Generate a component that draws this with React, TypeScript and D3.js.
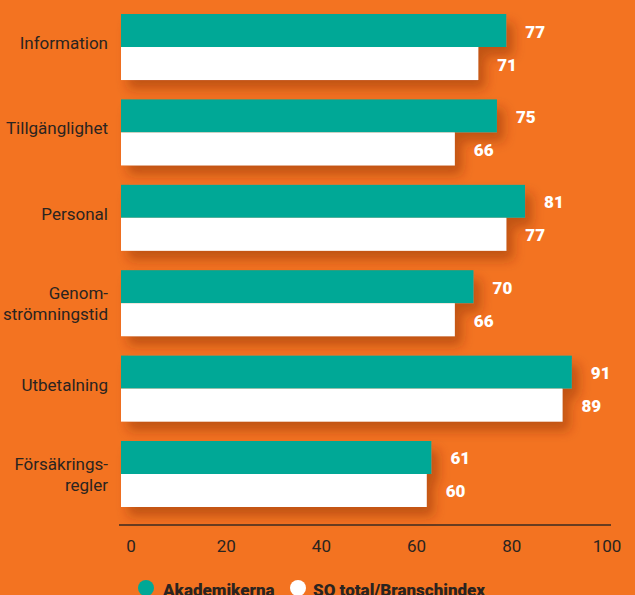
import React from "react";
import * as d3 from "d3";

const categories: string[][] = [
  ["Information"],
  ["Tillgänglighet"],
  ["Personal"],
  ["Genom-", "strömningstid"],
  ["Utbetalning"],
  ["Försäkrings-", "regler"],
];
const akademikerna = [77, 75, 81, 70, 91, 61];
const soTotal = [71, 66, 77, 66, 89, 60];
const seriesNames = ["Akademikerna", "SO total/Branschindex"];
const tickValues = [0, 20, 40, 60, 80, 100];

const W = 635;
const H = 595;
const BG = "#F37321";
const TEAL = "#00A896";
const TEXT = "#2a2420";

export default function App() {
  const keys = categories.map((c) => c.join(""));
  const y = d3.scaleBand<string>().domain(keys).range([14, 507]).paddingInner(0.227).paddingOuter(0);
  const ySub = d3.scaleBand<number>().domain([0, 1]).range([0, y.bandwidth()]);
  const xBar = d3.scaleLinear().domain([-5.3, 100]).range([121, 614]);
  const xAxis = d3.scaleLinear().domain([0, 100]).range([131, 607]);
  const x0 = xBar.range()[0];
  const series = [akademikerna, soTotal];
  const colors = [TEAL, "#ffffff"];

  return (
    <svg width={W} height={H} style={{ position: "absolute", left: 0, top: 0 }}>
      <defs>
        <filter id="sh" x="-10%" y="-30%" width="130%" height="190%">
          <feDropShadow dx="7" dy="9" stdDeviation="6" floodColor="#7a2800" floodOpacity="0.42" />
        </filter>
      </defs>
      <rect width={W} height={H} fill={BG} />
      {keys.map((k, i) => {
        const gy = y(k)!;
        const cy = gy + y.bandwidth() / 2;
        const lines = categories[i];
        return (
          <g key={k}>
            <g filter="url(#sh)">
              {series.map((s, j) => (
                <rect key={j} x={x0} y={gy + ySub(j)!} width={xBar(s[i]) - x0} height={ySub.bandwidth()} fill={colors[j]} />
              ))}
            </g>
            {series.map((s, j) => (
              <text
                key={"v" + j}
                x={xBar(s[i]) + 19}
                y={gy + ySub(j)! + ySub.bandwidth() / 2 + 7}
                fill="#ffffff"
                fontFamily="Roboto, sans-serif"
                fontWeight={900}
                fontSize={17}
              >
                {s[i]}
              </text>
            ))}
            {lines.length === 1 ? (
              <text x={108} y={cy + 2} textAnchor="end" fill={TEXT} fontFamily="Roboto, sans-serif" fontSize={17}>
                {lines[0]}
              </text>
            ) : (
              lines.map((l, li) => (
                <text key={li} x={108} y={cy - 4 + li * 21} textAnchor="end" fill={TEXT} fontFamily="Roboto, sans-serif" fontSize={17}>
                  {l}
                </text>
              ))
            )}
          </g>
        );
      })}
      <line x1={119} x2={611} y1={525} y2={525} stroke="#3a2a20" strokeWidth={1.3} />
      {tickValues.map((t) => (
        <text key={t} x={xAxis(t)} y={552} textAnchor="middle" fill={TEXT} fontFamily="Roboto, sans-serif" fontSize={17}>
          {t}
        </text>
      ))}
      <g>
        <circle cx={146} cy={588} r={8} fill={TEAL} />
        <text x={163} y={596} fill={TEXT} fontFamily="Roboto, sans-serif" fontWeight={900} fontSize={17}>
          {seriesNames[0]}
        </text>
        <circle cx={298} cy={588} r={8} fill="#ffffff" />
        <text x={313} y={596} fill={TEXT} fontFamily="Roboto, sans-serif" fontWeight={900} fontSize={17}>
          {seriesNames[1]}
        </text>
      </g>
    </svg>
  );
}
